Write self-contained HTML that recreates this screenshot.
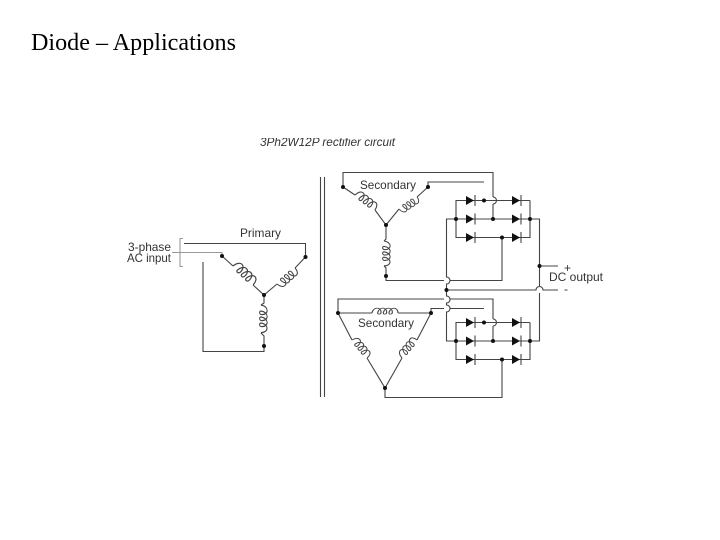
<!DOCTYPE html>
<html><head><meta charset="utf-8"><style>
html,body{margin:0;padding:0;background:#fff;width:720px;height:540px;overflow:hidden}
svg{display:block}
.w{fill:none;stroke:#444;stroke-width:1.1}
.l{fill:none;stroke:#999;stroke-width:1.1}
.t{font-family:"Liberation Sans",sans-serif;font-size:12px;fill:#333}
</style></head><body>
<svg width="720" height="540" viewBox="0 0 720 540" xmlns="http://www.w3.org/2000/svg">
<defs>
<clipPath id="c"><rect x="250" y="138" width="160" height="8"/></clipPath>
<g id="coil"><path fill="none" stroke="#444" stroke-width="1" d="M0,0c1,-8 8,-8 8,-1c0,3 -3,3 -3,1c1,-8 8,-8 8,-1c0,3 -3,3 -3,1c1,-8 8,-8 8,-1c0,3 -3,3 -3,1c1,-8 8,-8 8,0"/></g>
<g id="d"><path d="M0,-4.5L8,0L0,4.5Z" fill="#111"/><path d="M9,-5.5V5.5" stroke="#444" stroke-width="1.1"/></g>
<circle id="p" r="2" fill="#111"/>
<g id="bridge">
<path class="w" d="M84,-18.5H10V18.5H84V-18.5M0,0H94"/>
<use href="#d" x="20" y="-18.5"/><use href="#d" x="20" y="0"/><use href="#d" x="20" y="18.5"/>
<use href="#d" x="66" y="-18.5"/><use href="#d" x="66" y="0"/><use href="#d" x="66" y="18.5"/>
<use href="#p" x="10" y="0"/><use href="#p" x="84" y="0"/><use href="#p" x="38" y="-18.5"/><use href="#p" x="47" y="0"/><use href="#p" x="56" y="18.5"/>
</g>
</defs>

<text x="31" y="50" font-family="'Liberation Serif',serif" font-size="24" fill="#000" textLength="205" lengthAdjust="spacingAndGlyphs">Diode – Applications</text>
<text class="t" x="260" y="146" font-style="italic" clip-path="url(#c)" textLength="135" lengthAdjust="spacingAndGlyphs">3Ph2W12P rectifier circuit</text>

<!-- Input -->
<path class="l" d="M183,238.5H180V266.5H183"/>
<path class="w" d="M184,243.5H305.5V257"/>
<path class="l" d="M172,252.5H222V256"/>
<path class="w" d="M203,262V351.5H264V346"/>
<text class="t" x="128" y="251" textLength="43" lengthAdjust="spacingAndGlyphs">3-phase</text>
<text class="t" x="127" y="262" textLength="44" lengthAdjust="spacingAndGlyphs">AC input</text>
<text class="t" x="240" y="237" textLength="41" lengthAdjust="spacingAndGlyphs">Primary</text>

<!-- Primary star -->
<path class="w" d="M222,256L233,266M253,285L264,295L277,284M295,268L305.5,257M264,295V303L261,305M261,333L264,336V346"/>
<use href="#coil" transform="translate(233,266) rotate(43) scale(1.2)"/>
<use href="#coil" transform="translate(277,284) rotate(-41.6) scale(1.05,-1.05)"/>
<use href="#coil" transform="translate(261,305) rotate(90) scale(1.2,1)"/>
<use href="#p" x="222" y="256"/><use href="#p" x="305.5" y="257"/><use href="#p" x="264" y="295"/><use href="#p" x="264" y="346"/>

<!-- Core -->
<path d="M320.5,177V397M324.5,177V397" fill="none" stroke="#444" stroke-width="1.1"/>

<!-- Upper secondary -->
<path class="w" d="M343,187V172.5H493V197M493,204V219"/>
<path class="w" d="M493,197a3.5,3.5 0 0 1 0,7"/>
<path class="w" d="M428,187V182H484"/>
<path class="w" d="M343,187L355,195M375,210L386,225L399,209M417,197L428,187M386,225V239L384,241M384,266L386,268V276V280.5H444M450,280.5H502V238"/>
<use href="#coil" transform="translate(355,195) rotate(37) scale(1.08)"/>
<use href="#coil" transform="translate(399,209) rotate(-33.7) scale(.95,-.95)"/>
<use href="#coil" transform="translate(384,241) rotate(90) scale(1.08,1)"/>
<use href="#p" x="343" y="187"/><use href="#p" x="428" y="187"/><use href="#p" x="386" y="225"/><use href="#p" x="386" y="276"/>
<text class="t" x="360" y="189" textLength="56" lengthAdjust="spacingAndGlyphs">Secondary</text>

<use href="#bridge" x="446" y="219"/>

<!-- Centre wiring -->
<path class="w" d="M446.5,219V277a3.5,3.5 0 0 1 0,7V296a3.5,3.5 0 0 1 0,7V305a3.5,3.5 0 0 1 0,7V341"/>
<path class="w" d="M446,290H536a3.5,3.5 0 0 1 7,0H558M539.5,219V286M539.5,293V341M539.5,266H558"/>
<use href="#p" x="446.5" y="290"/><use href="#p" x="539.5" y="266"/>
<text class="t" x="564" y="272">+</text>
<text class="t" x="564" y="293">-</text>
<text class="t" x="549" y="281" textLength="54" lengthAdjust="spacingAndGlyphs">DC output</text>

<!-- Lower secondary -->
<path class="w" d="M338,313V299H444M450,299H493V319M493,326V341"/>
<path class="w" d="M493,319a3.5,3.5 0 0 1 0,7"/>
<path class="w" d="M431,313V308.5H444M450,308.5H484"/>
<path class="w" d="M338,313H372M398,313H431M338,313L352,340M367,358L385,388L402,358M417,340L431,313M385,388V397.5H502V360"/>
<use href="#coil" transform="translate(372,313) scale(1.13,.8)"/>
<use href="#coil" transform="translate(352,340) rotate(50) scale(1.02)"/>
<use href="#coil" transform="translate(402,358) rotate(-50) scale(1.02)"/>
<use href="#p" x="338" y="313"/><use href="#p" x="431" y="313"/><use href="#p" x="385" y="388"/>
<text class="t" x="358" y="327" textLength="56" lengthAdjust="spacingAndGlyphs">Secondary</text>

<use href="#bridge" x="446" y="341"/>
</svg>
</body></html>
